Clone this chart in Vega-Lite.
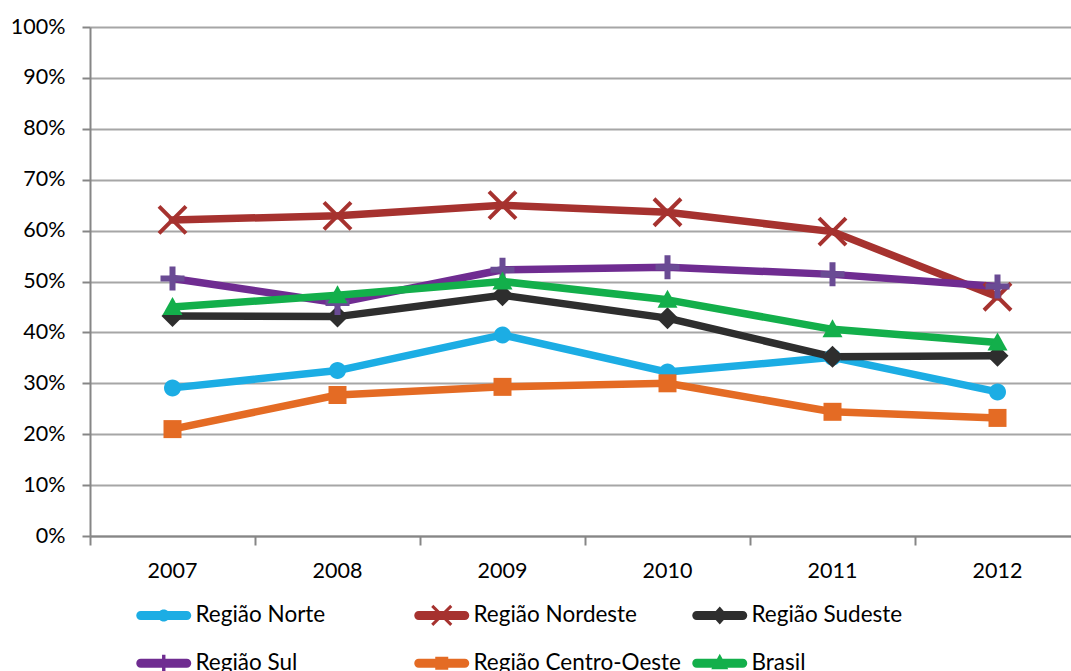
{
  "$schema": "https://vega.github.io/schema/vega-lite/v6.json",
  "autosize": {"type": "none"},
  "padding": {"left": 90, "top": 27, "right": 0, "bottom": 135},
  "width": 981,
  "height": 509,
  "background": "white",
  "config": {
    "view": {"stroke": null},
    "font": "Lato",
    "axis": {"labelFont": "Lato", "labelFontSize": 21.5, "labelColor": "#000000", "domainColor": "#868686", "domainWidth": 2, "tickColor": "#868686", "tickWidth": 2, "gridColor": "#A6A6A6", "gridWidth": 2, "title": null}
  },
  "data": {"values": [
    {"year": "2007", "series": "Região Norte", "value": 0.291},
    {"year": "2008", "series": "Região Norte", "value": 0.325},
    {"year": "2009", "series": "Região Norte", "value": 0.395},
    {"year": "2010", "series": "Região Norte", "value": 0.322},
    {"year": "2011", "series": "Região Norte", "value": 0.351},
    {"year": "2012", "series": "Região Norte", "value": 0.283},
    {"year": "2007", "series": "Região Nordeste", "value": 0.621},
    {"year": "2008", "series": "Região Nordeste", "value": 0.629},
    {"year": "2009", "series": "Região Nordeste", "value": 0.650},
    {"year": "2010", "series": "Região Nordeste", "value": 0.636},
    {"year": "2011", "series": "Região Nordeste", "value": 0.598},
    {"year": "2012", "series": "Região Nordeste", "value": 0.470},
    {"year": "2007", "series": "Região Sudeste", "value": 0.432},
    {"year": "2008", "series": "Região Sudeste", "value": 0.431},
    {"year": "2009", "series": "Região Sudeste", "value": 0.473},
    {"year": "2010", "series": "Região Sudeste", "value": 0.428},
    {"year": "2011", "series": "Região Sudeste", "value": 0.352},
    {"year": "2012", "series": "Região Sudeste", "value": 0.354},
    {"year": "2007", "series": "Região Sul", "value": 0.506},
    {"year": "2008", "series": "Região Sul", "value": 0.458},
    {"year": "2009", "series": "Região Sul", "value": 0.523},
    {"year": "2010", "series": "Região Sul", "value": 0.528},
    {"year": "2011", "series": "Região Sul", "value": 0.514},
    {"year": "2012", "series": "Região Sul", "value": 0.490},
    {"year": "2007", "series": "Região Centro-Oeste", "value": 0.210},
    {"year": "2008", "series": "Região Centro-Oeste", "value": 0.277},
    {"year": "2009", "series": "Região Centro-Oeste", "value": 0.293},
    {"year": "2010", "series": "Região Centro-Oeste", "value": 0.300},
    {"year": "2011", "series": "Região Centro-Oeste", "value": 0.244},
    {"year": "2012", "series": "Região Centro-Oeste", "value": 0.232},
    {"year": "2007", "series": "Brasil", "value": 0.450},
    {"year": "2008", "series": "Brasil", "value": 0.473},
    {"year": "2009", "series": "Brasil", "value": 0.500},
    {"year": "2010", "series": "Brasil", "value": 0.464},
    {"year": "2011", "series": "Brasil", "value": 0.406},
    {"year": "2012", "series": "Brasil", "value": 0.380}
  ]},
  "encoding": {
    "x": {"field": "year", "type": "ordinal", "bandPosition": 0.5,
      "scale": {"type": "band", "paddingInner": 0, "paddingOuter": 0, "range": [0, 990]},
      "axis": {"bandPosition": 0, "tickSize": 9, "labelPadding": 15, "labelAngle": 0, "grid": false}},
    "y": {"field": "value", "type": "quantitative",
      "scale": {"domain": [0, 1], "nice": false, "zero": true},
      "axis": {"values": [0, 0.1, 0.2, 0.3, 0.4, 0.5, 0.6, 0.7, 0.8, 0.9, 1.0], "format": ".0%", "tickSize": 8, "labelPadding": 17, "grid": true}}
  },
  "layer": [
    {
      "mark": {"type": "line", "strokeWidth": 7.5, "strokeJoin": "round", "strokeCap": "round"},
      "encoding": {
        "color": {"field": "series", "type": "nominal",
          "scale": {"domain": ["Região Norte", "Região Nordeste", "Região Sudeste", "Região Sul", "Região Centro-Oeste", "Brasil"],
                    "range": ["#1CADE4", "#A6322F", "#2E2E2E", "#6F2C91", "#E46B24", "#13AF4B"]},
          "legend": {
            "orient": "none", "legendX": 62.5, "legendY": 577, "title": null, "columns": 3, "gridAlign": "all",
            "direction": "horizontal", "padding": 0, "columnPadding": 10, "rowPadding": 25, "labelOffset": 20.5,
            "labelFont": "Lato", "labelFontSize": 22.5, "labelColor": "#000000", "labelLimit": 400, "symbolSize": 400,
            "encode": {"symbols": {"update": {
              "fill": {"scale": "color", "field": "value"},
              "stroke": {"value": "transparent"},
              "strokeWidth": {"value": 0},
              "opacity": {"value": 1},
              "size": {"value": 400},
              "shape": {"signal": "(datum.value === 'Região Norte' ? 'M-0.6 0A0.6 0.6 0 1 1 0.6 0A0.6 0.6 0 1 1 -0.6 0Z' : datum.value === 'Região Nordeste' ? 'M-0.844 -1.056L1.056 0.844L0.844 1.056L-1.056 -0.844ZM-1.056 0.844L0.844 -1.056L1.056 -0.844L-0.844 1.056Z' : datum.value === 'Região Sudeste' ? 'M0 -0.9L0.8 0L0 0.9L-0.8 0Z' : datum.value === 'Região Sul' ? 'M-0.17 -0.85L0.17 -0.85L0.17 -0.17L0.85 -0.17L0.85 0.17L0.17 0.17L0.17 0.85L-0.17 0.85L-0.17 0.17L-0.85 0.17L-0.85 -0.17L-0.17 -0.17Z' : datum.value === 'Região Centro-Oeste' ? 'M-0.65 -0.65L0.65 -0.65L0.65 0.65L-0.65 0.65Z' : 'M0 -0.95L0.85 0.6L-0.85 0.6Z') + 'M-2.3 -0.45L2.3 -0.45L2.3 0.45L-2.3 0.45ZM-2.75 0A0.45 0.45 0 1 1 -1.85 0A0.45 0.45 0 1 1 -2.75 0ZM1.85 0A0.45 0.45 0 1 1 2.75 0A0.45 0.45 0 1 1 1.85 0Z'"}
            }}}
          }}
      }
    },
    {
      "transform": [{"filter": {"field": "series", "equal": "Região Norte"}}],
      "mark": {"type": "point", "filled": true, "opacity": 1, "size": 400, "strokeWidth": 0, "color": "#1CADE4",
        "shape": "M-0.85 0A0.85 0.85 0 1 1 0.85 0A0.85 0.85 0 1 1 -0.85 0Z"}
    },
    {
      "transform": [{"filter": {"field": "series", "equal": "Região Nordeste"}}],
      "mark": {"type": "point", "filled": true, "opacity": 1, "size": 400, "strokeWidth": 0, "color": "#A6322F",
        "shape": "M-1.209 -1.491L1.491 1.209L1.209 1.491L-1.491 -1.209ZM-1.491 1.209L1.209 -1.491L1.491 -1.209L-1.209 1.491Z"}
    },
    {
      "transform": [{"filter": {"field": "series", "equal": "Região Sudeste"}}],
      "mark": {"type": "point", "filled": true, "opacity": 1, "size": 400, "strokeWidth": 0, "color": "#2E2E2E",
        "shape": "M0 -1.1L1.1 0L0 1.1L-1.1 0Z"}
    },
    {
      "transform": [{"filter": {"field": "series", "equal": "Região Sul"}}],
      "mark": {"type": "point", "filled": true, "opacity": 1, "size": 400, "strokeWidth": 0, "color": "#6A4B94",
        "shape": "M-0.3 -1.2L0.3 -1.2L0.3 -0.3L1.2 -0.3L1.2 0.3L0.3 0.3L0.3 1.2L-0.3 1.2L-0.3 0.3L-1.2 0.3L-1.2 -0.3L-0.3 -0.3Z"}
    },
    {
      "transform": [{"filter": {"field": "series", "equal": "Região Centro-Oeste"}}],
      "mark": {"type": "point", "filled": true, "opacity": 1, "size": 400, "strokeWidth": 0, "color": "#E46B24",
        "shape": "M-0.9 -0.9L0.9 -0.9L0.9 0.9L-0.9 0.9Z"}
    },
    {
      "transform": [{"filter": {"field": "series", "equal": "Brasil"}}],
      "mark": {"type": "point", "filled": true, "opacity": 1, "size": 400, "strokeWidth": 0, "color": "#13AF4B",
        "shape": "M0 -1.0L1.0 0.8L-1.0 0.8Z"}
    }
  ]
}
